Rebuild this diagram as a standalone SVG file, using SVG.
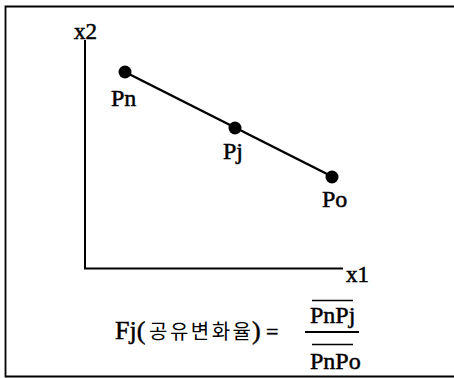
<svg xmlns="http://www.w3.org/2000/svg" width="454" height="378" viewBox="0 0 454 378">
<style>
.t{font-family:"Liberation Serif","DejaVu Serif","Times New Roman",Times,serif;fill:#000;stroke:#000;stroke-width:0.5}
.k{font-family:"Noto Sans CJK KR","Noto Sans",sans-serif;fill:#000}
.ax{stroke:#000;stroke-width:2;fill:none}
.dot{fill:#000}
</style>
<rect width="454" height="378" fill="#fff"/>
<path d="M454,6.5 H5.5 V376.5 H454" fill="none" stroke="#000" stroke-width="1.8"/>
<g id="axes">
<path class="ax" d="M85,40 V268.5 H343"/>
<text class="t" x="74" y="39" font-size="23">x2</text>
<text class="t" x="346" y="282" font-size="23">x1</text>
</g>
<g id="connectors">
<line x1="125" y1="72" x2="333" y2="177" stroke="#000" stroke-width="2.5"/>
</g>
<g id="Pn"><circle class="dot" cx="125" cy="72" r="6.5"/><text class="t" x="111" y="106" font-size="24">Pn</text></g>
<g id="Pj"><circle class="dot" cx="235" cy="128" r="6.5"/><text class="t" x="223" y="159" font-size="24">Pj</text></g>
<g id="Po"><circle class="dot" cx="332" cy="177" r="6.5"/><text class="t" x="322" y="207" font-size="24">Po</text></g>
<g id="formula">
<text class="t" x="115" y="339" font-size="26">Fj(</text>
<text class="k" x="149" y="339" font-size="20" textLength="102" lengthAdjust="spacing">공유변화율</text>
<text class="t" x="252" y="339" font-size="26">)</text>
<text class="t" x="266" y="339" font-size="22">=</text>
<line x1="312" y1="300.5" x2="353" y2="300.5" stroke="#000" stroke-width="1.6"/>
<text class="t" x="310" y="323" font-size="24">PnPj</text>
<line x1="305" y1="332" x2="359" y2="332" stroke="#000" stroke-width="2.2"/>
<line x1="312" y1="344.5" x2="353" y2="344.5" stroke="#000" stroke-width="1.6"/>
<text class="t" x="310" y="369" font-size="24">PnPo</text>
</g>
</svg>
